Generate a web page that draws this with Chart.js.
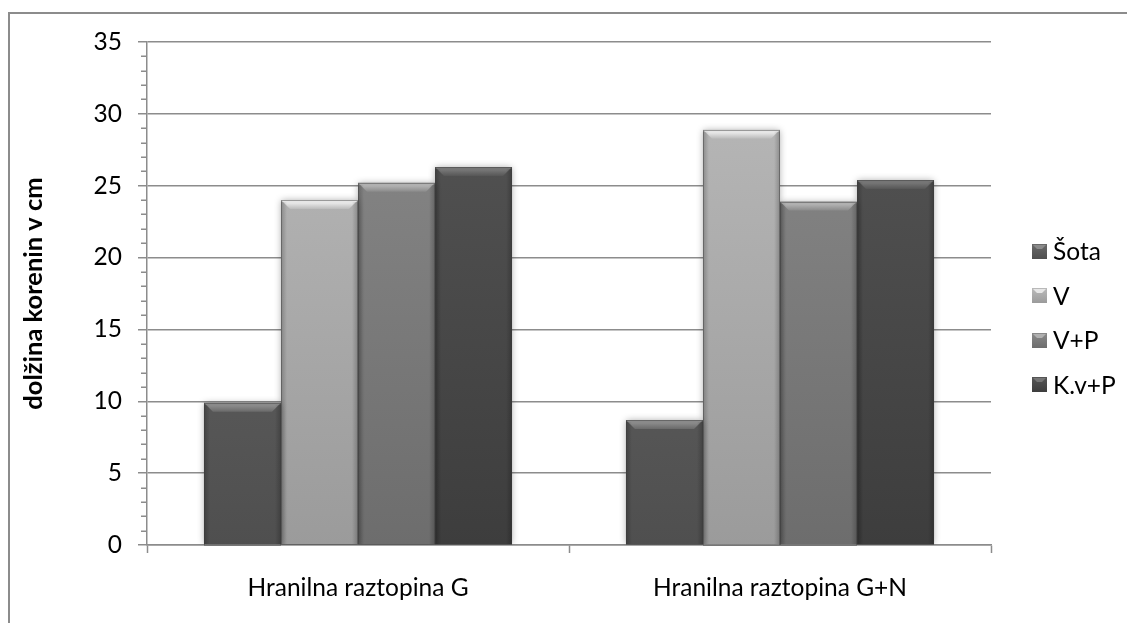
<!DOCTYPE html>
<html>
<head>
<meta charset="utf-8">
<script src="https://cdn.jsdelivr.net/npm/chart.js@4.4.1/dist/chart.umd.min.js"></script>
<style>
  html, body { margin: 0; padding: 0; background: #ffffff; }
  #wrap { width: 1127px; height: 623px; }
</style>
</head>
<body>
<div id="wrap"><canvas id="c" width="1127" height="623"></canvas></div>
<script>
// Root length (cm) per nutrient solution and substrate
const categories = ['Hranilna raztopina G', 'Hranilna raztopina G+N'];
const seriesNames = ['Šota', 'V', 'V+P', 'K.v+P'];
const sota = [9.9, 8.7];
const voda = [24.0, 28.9];
const vodaP = [25.2, 23.9];
const kvP = [26.3, 25.4];
const yTicks = [0, 5, 10, 15, 20, 25, 30, 35];

const FONT = 'Lato';
const AXIS_GREY = '#8c8c8c';
// light (top) and dark (bottom) shade of every series
const tops = ['#6a6a6a', '#bababa', '#8a8a8a', '#565656'];
const bottoms = ['#4f4f4f', '#9b9b9b', '#6d6d6d', '#3d3d3d'];
const rims = ['#8a8a8a', '#e6e6e6', '#b0b0b0', '#757575'];

function barFill(i) {
  return (ctx) => {
    const area = ctx.chart.chartArea;
    if (!area) return bottoms[i];
    const g = ctx.chart.ctx.createLinearGradient(0, area.top, 0, area.bottom);
    g.addColorStop(0, tops[i]);
    g.addColorStop(1, bottoms[i]);
    return g;
  };
}

// outer frame of the chart object
const frame = {
  id: 'frame',
  beforeDraw(chart) {
    const c = chart.ctx;
    c.save();
    c.strokeStyle = AXIS_GREY;
    c.lineWidth = 2;
    c.beginPath();
    c.moveTo(9, chart.height + 2);
    c.lineTo(9, 13);
    c.lineTo(chart.width + 2, 13);
    c.stroke();
    c.restore();
  }
};

// soft shadow under the bars
const barShadow = {
  id: 'barShadow',
  beforeDatasetDraw(chart) {
    const c = chart.ctx;
    c.shadowColor = 'rgba(0,0,0,0.35)';
    c.shadowBlur = 7;
    c.shadowOffsetX = 0;
    c.shadowOffsetY = 0;
  },
  afterDatasetDraw(chart) {
    const c = chart.ctx;
    c.shadowColor = 'rgba(0,0,0,0)';
    c.shadowBlur = 0;
  }
};

// bevelled top and edges on every bar
const bevel = {
  id: 'bevel',
  afterDatasetsDraw(chart) {
    const c = chart.ctx;
    chart.data.datasets.forEach((ds, i) => {
      const meta = chart.getDatasetMeta(i);
      meta.data.forEach((bar) => {
        const p = bar.getProps(['x', 'y', 'base', 'width'], true);
        const l = p.x - p.width / 2, r = p.x + p.width / 2, t = p.y, b = p.base;
        const d = 9;
        c.save();
        // top bevel
        const g = c.createLinearGradient(0, t, 0, t + d);
        g.addColorStop(0, rims[i]);
        g.addColorStop(0.35, rims[i]);
        g.addColorStop(1, tops[i]);
        c.fillStyle = g;
        c.beginPath();
        c.moveTo(l, t);
        c.lineTo(r, t);
        c.lineTo(r - d, t + d);
        c.lineTo(l + d, t + d);
        c.closePath();
        c.fill();
        // side edges
        const gl = c.createLinearGradient(l, 0, l + 6, 0);
        gl.addColorStop(0, 'rgba(0,0,0,0.22)');
        gl.addColorStop(1, 'rgba(0,0,0,0)');
        c.fillStyle = gl;
        c.fillRect(l, t + 2, 6, b - t - 2);
        const gr = c.createLinearGradient(r, 0, r - 6, 0);
        gr.addColorStop(0, 'rgba(0,0,0,0.22)');
        gr.addColorStop(1, 'rgba(0,0,0,0)');
        c.fillStyle = gr;
        c.fillRect(r - 6, t + 2, 6, b - t - 2);
        // thin outline
        c.strokeStyle = 'rgba(60,60,60,0.45)';
        c.lineWidth = 1;
        c.strokeRect(Math.round(l) + 0.5, Math.round(t) + 0.5, Math.round(r - l) - 1, Math.round(b - t));
        c.restore();
      });
    });
  }
};

// minor tick marks on the value axis
const minorTicks = {
  id: 'minorTicks',
  afterDraw(chart) {
    const s = chart.scales.y;
    const c = chart.ctx;
    c.save();
    c.strokeStyle = AXIS_GREY;
    c.lineWidth = 1.5;
    c.beginPath();
    for (let v = s.min; v <= s.max; v++) {
      if (v % 5 === 0) continue;
      const y = Math.round(s.getPixelForValue(v)) + 0.25;
      c.moveTo(s.right - 6, y);
      c.lineTo(s.right, y);
    }
    c.stroke();
    c.restore();
  }
};

// series key to the right of the plot
const sideLegend = {
  id: 'sideLegend',
  afterDraw(chart) {
    const c = chart.ctx;
    const area = chart.chartArea;
    const x0 = area.right + 41;
    const step = 44.6;
    const n = chart.data.datasets.length;
    const yc = 318;
    c.save();
    c.font = '24.5px ' + FONT;
    c.textBaseline = 'middle';
    c.textAlign = 'left';
    chart.data.datasets.forEach((ds, i) => {
      const y = yc + (i - (n - 1) / 2) * step;
      const bx = x0, by = Math.round(y - 7.5), s = 15;
      const g = c.createLinearGradient(0, by, 0, by + s);
      g.addColorStop(0, tops[i]);
      g.addColorStop(1, bottoms[i]);
      c.fillStyle = g;
      c.fillRect(bx, by, s, s);
      c.fillStyle = rims[i];
      c.beginPath();
      c.moveTo(bx + 1, by + 1);
      c.lineTo(bx + s - 1, by + 1);
      c.lineTo(bx + s - 5, by + 5);
      c.lineTo(bx + 5, by + 5);
      c.closePath();
      c.fill();
      c.fillStyle = '#000';
      c.fillText(ds.label, bx + 21, y + 1);
    });
    c.restore();
  }
};

new Chart(document.getElementById('c'), {
  type: 'bar',
  data: {
    labels: categories,
    datasets: [
      { label: seriesNames[0], data: sota, backgroundColor: barFill(0) },
      { label: seriesNames[1], data: voda, backgroundColor: barFill(1) },
      { label: seriesNames[2], data: vodaP, backgroundColor: barFill(2) },
      { label: seriesNames[3], data: kvP, backgroundColor: barFill(3) }
    ]
  },
  options: {
    responsive: false,
    animation: false,
    layout: { padding: { top: 42, right: 136, bottom: 0, left: 0 } },
    datasets: { bar: { categoryPercentage: 0.73, barPercentage: 1.0 } },
    plugins: { legend: { display: false }, tooltip: { enabled: false } },
    scales: {
      x: {
        grid: { drawOnChartArea: false, tickLength: 8, tickColor: AXIS_GREY, tickWidth: 1.5 },
        border: { color: AXIS_GREY, width: 1.5 },
        ticks: { color: '#000', font: { family: FONT, size: 24.5 }, padding: 20 },
        afterFit(s) { s.height = 78; }
      },
      y: {
        min: 0, max: 35,
        afterBuildTicks(s) { s.ticks = yTicks.map(v => ({ value: v })); },
        grid: { color: AXIS_GREY, lineWidth: 1.5, tickLength: 9 },
        border: { color: AXIS_GREY, width: 1.5 },
        ticks: { color: '#000', font: { family: FONT, size: 24.5 }, padding: 16 },
        title: { display: true, text: 'dolžina korenin v cm', color: '#000', font: { family: FONT, size: 25.5, weight: 'bold' }, padding: { top: 18 } },
        afterFit(s) { s.width = 147; }
      }
    }
  },
  plugins: [frame, barShadow, bevel, minorTicks, sideLegend]
});
</script>
</body>
</html>
